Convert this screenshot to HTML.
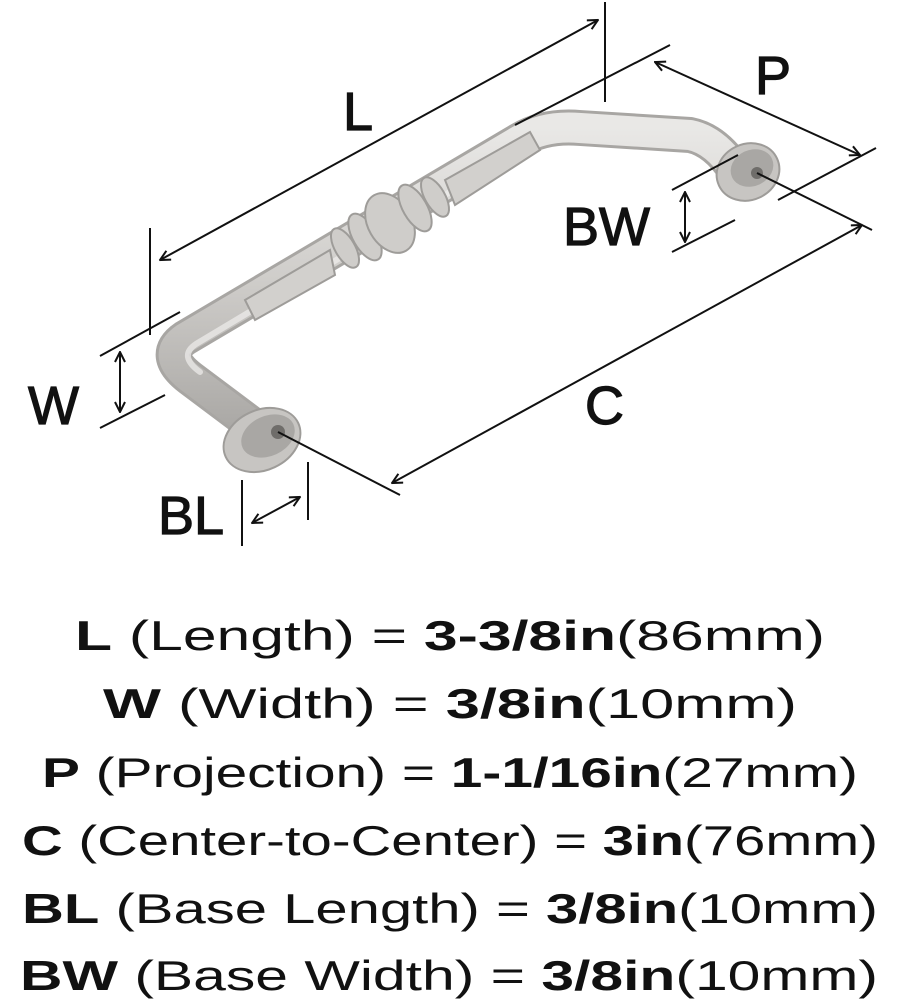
<!DOCTYPE html>
<html><head><meta charset="utf-8"><style>
html,body{margin:0;padding:0;background:#fff;width:898px;height:1000px;overflow:hidden}
svg{display:block}
</style></head><body>
<svg width="898" height="1000" viewBox="0 0 898 1000" xmlns="http://www.w3.org/2000/svg">
<defs>
<linearGradient id="g" x1="0" y1="0" x2="0" y2="1">
<stop offset="0" stop-color="#e9e8e6"/><stop offset="0.5" stop-color="#cfcdca"/><stop offset="1" stop-color="#a9a7a4"/>
</linearGradient>
<marker id="a" viewBox="0 0 12 12" refX="11" refY="6" markerWidth="12" markerHeight="12" markerUnits="userSpaceOnUse" orient="auto-start-reverse">
<path d="M1,1 L11,6 L1,11" fill="none" stroke="#111" stroke-width="2"/>
</marker>
</defs>
<g fill="none" stroke-linecap="round" stroke-linejoin="round">
<path d="M262,432 L190,378 Q160,355 185,338 L520,140 Q545,125 580,128 L690,135 Q715,140 735,170 L748,178" stroke="#a8a6a3" stroke-width="36"/>
<path d="M262,432 L190,378 Q160,355 185,338 L520,140 Q545,125 580,128 L690,135 Q715,140 735,170 L748,178" stroke="url(#g)" stroke-width="30"/>
<path d="M200,372 Q178,356 196,344 L520,150" stroke="#efeeec" stroke-width="6" opacity="0.7"/>
</g>
<g fill="#cfcdca" stroke="#9e9c99" stroke-width="2">
<path d="M245,300 L330,250 L335,275 L255,320 Z" fill="#d2d0cd"/>
<ellipse cx="345" cy="248" rx="10" ry="22" transform="rotate(-30 345 248)"/>
<ellipse cx="365" cy="237" rx="12" ry="26" transform="rotate(-30 365 237)"/>
<ellipse cx="390" cy="223" rx="22" ry="32" transform="rotate(-30 390 223)"/>
<ellipse cx="415" cy="208" rx="12" ry="26" transform="rotate(-30 415 208)"/>
<ellipse cx="435" cy="197" rx="10" ry="22" transform="rotate(-30 435 197)"/>
<path d="M445,180 L530,132 L540,150 L455,205 Z" fill="#d2d0cd"/>
</g>
<g>
<ellipse cx="262" cy="440" rx="40" ry="30" transform="rotate(-25 262 440)" fill="#c7c5c2" stroke="#9e9c99" stroke-width="2"/>
<ellipse cx="268" cy="436" rx="28" ry="20" transform="rotate(-25 268 436)" fill="#a9a7a4"/>
<circle cx="278" cy="432" r="7" fill="#6f6d6a"/>
<ellipse cx="748" cy="172" rx="32" ry="28" transform="rotate(-25 748 172)" fill="#c7c5c2" stroke="#9e9c99" stroke-width="2"/>
<ellipse cx="752" cy="168" rx="22" ry="18" transform="rotate(-25 752 168)" fill="#a9a7a4"/>
<circle cx="757" cy="173" r="6" fill="#6f6d6a"/>
</g>
<g stroke="#111" stroke-width="2" fill="none">
<line x1="150" y1="228" x2="150" y2="335"/>
<line x1="605" y1="2" x2="605" y2="102"/>
<line x1="160" y1="260" x2="598" y2="20" marker-start="url(#a)" marker-end="url(#a)"/>
<line x1="515" y1="125" x2="670" y2="45"/>
<line x1="778" y1="200" x2="876" y2="148"/>
<line x1="655" y1="62" x2="860" y2="155" marker-start="url(#a)" marker-end="url(#a)"/>
<line x1="672" y1="190" x2="738" y2="155"/>
<line x1="672" y1="252" x2="735" y2="220"/>
<line x1="685" y1="192" x2="685" y2="242" marker-start="url(#a)" marker-end="url(#a)"/>
<line x1="100" y1="356" x2="180" y2="312"/>
<line x1="100" y1="428" x2="165" y2="395"/>
<line x1="120" y1="352" x2="120" y2="412" marker-start="url(#a)" marker-end="url(#a)"/>
<line x1="278" y1="432" x2="400" y2="495"/>
<line x1="757" y1="173" x2="872" y2="230"/>
<line x1="392" y1="483" x2="862" y2="225" marker-start="url(#a)" marker-end="url(#a)"/>
<line x1="242" y1="480" x2="242" y2="546"/>
<line x1="308" y1="462" x2="308" y2="520"/>
<line x1="252" y1="523" x2="300" y2="497" marker-start="url(#a)" marker-end="url(#a)"/>
</g>
<g font-family="Liberation Sans, sans-serif" font-size="54" fill="#111" stroke="#111" stroke-width="1.2">
<text x="343" y="130">L</text>
<text x="755" y="94">P</text>
<text x="563" y="245">BW</text>
<text x="28" y="424">W</text>
<text x="585" y="424">C</text>
<text x="158" y="534">BL</text>
</g>
<g font-family="Liberation Sans, sans-serif" font-size="42" fill="#111">
<text x="75" y="650" textLength="750" lengthAdjust="spacingAndGlyphs"><tspan font-weight="bold">L</tspan> (Length) = <tspan font-weight="bold">3-3/8in</tspan>(86mm)</text>
<text x="103" y="718" textLength="694" lengthAdjust="spacingAndGlyphs"><tspan font-weight="bold">W</tspan> (Width) = <tspan font-weight="bold">3/8in</tspan>(10mm)</text>
<text x="42" y="787" textLength="816" lengthAdjust="spacingAndGlyphs"><tspan font-weight="bold">P</tspan> (Projection) = <tspan font-weight="bold">1-1/16in</tspan>(27mm)</text>
<text x="22" y="855" textLength="856" lengthAdjust="spacingAndGlyphs"><tspan font-weight="bold">C</tspan> (Center-to-Center) = <tspan font-weight="bold">3in</tspan>(76mm)</text>
<text x="22" y="923" textLength="856" lengthAdjust="spacingAndGlyphs"><tspan font-weight="bold">BL</tspan> (Base Length) = <tspan font-weight="bold">3/8in</tspan>(10mm)</text>
<text x="20" y="990" textLength="858" lengthAdjust="spacingAndGlyphs"><tspan font-weight="bold">BW</tspan> (Base Width) = <tspan font-weight="bold">3/8in</tspan>(10mm)</text>
</g>
</svg>
</body></html>
